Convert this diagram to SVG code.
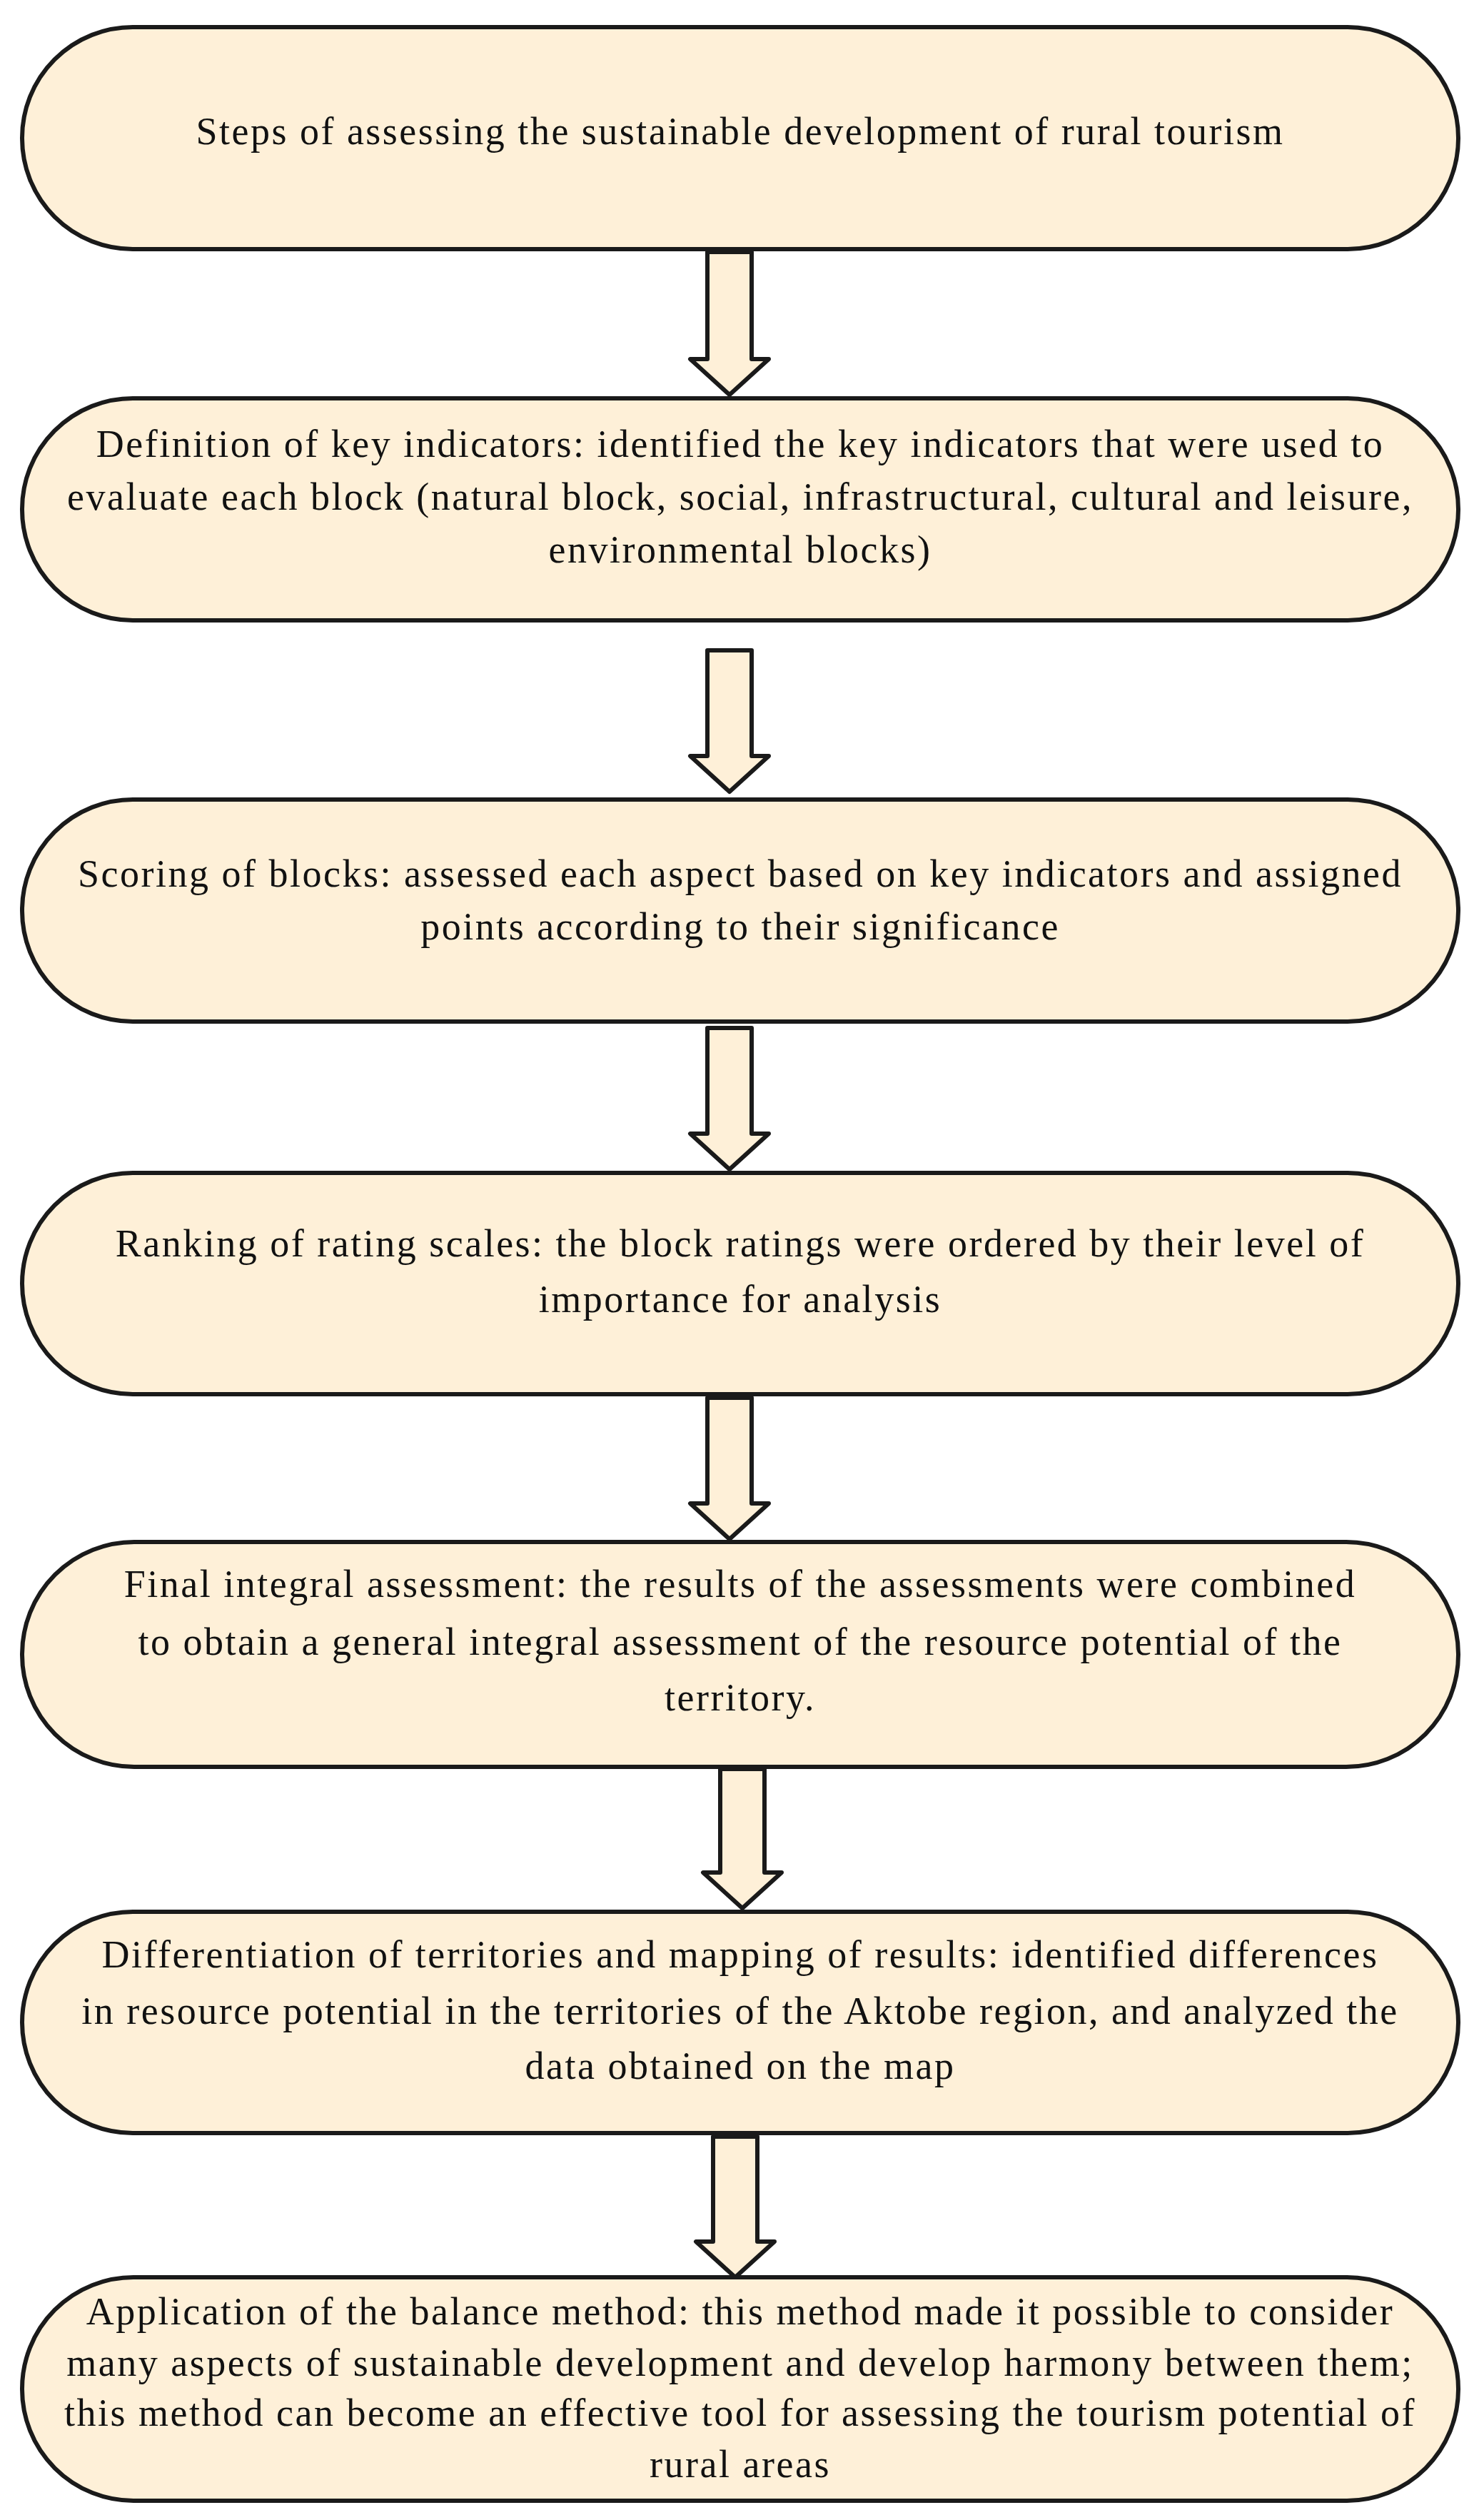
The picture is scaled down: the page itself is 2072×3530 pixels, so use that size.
<svg xmlns="http://www.w3.org/2000/svg" width="2072" height="3530" viewBox="0 0 2072 3530">
<style>
.b{fill:#FEF0D8;stroke:#1a1a1a;stroke-width:6}
.a{fill:#FEF0D8;stroke:#1a1a1a;stroke-width:6;stroke-linejoin:round}
text{font-family:"Liberation Serif","DejaVu Serif",serif;font-size:54px;letter-spacing:2.5px;fill:#111;text-anchor:middle}
</style>
<rect width="2072" height="3530" fill="#fff"/>
<g id="connectors">
<path class="a" d="M991,353 H1053 V503 H1077 L1022,553 L967,503 H991 Z"/>
<path class="a" d="M991,911 H1053 V1059 H1077 L1022,1109 L967,1059 H991 Z"/>
<path class="a" d="M991,1440 H1053 V1588 H1077 L1022,1638 L967,1588 H991 Z"/>
<path class="a" d="M991,1958 H1053 V2106 H1077 L1022,2156 L967,2106 H991 Z"/>
<path class="a" d="M1009,2478 H1071 V2623 H1095 L1040,2673 L985,2623 H1009 Z"/>
<path class="a" d="M999,2993 H1061 V3140 H1085 L1030,3190 L975,3140 H999 Z"/>
</g>
<g id="n1"><rect class="b" x="31" y="38" width="2012" height="311" rx="155"/>
<text x="1037" y="202">Steps of assessing the sustainable development of rural tourism</text></g>
<g id="n2"><rect class="b" x="31" y="558" width="2012" height="311" rx="155"/>
<text x="1037" y="640">Definition of key indicators: identified the key indicators that were used to</text>
<text x="1037" y="714">evaluate each block (natural block, social, infrastructural, cultural and leisure,</text>
<text x="1037" y="788">environmental blocks)</text></g>
<g id="n3"><rect class="b" x="31" y="1120" width="2012" height="311" rx="155"/>
<text x="1037" y="1242">Scoring of blocks: assessed each aspect based on key indicators and assigned</text>
<text x="1037" y="1316">points according to their significance</text></g>
<g id="n4"><rect class="b" x="31" y="1643" width="2012" height="310" rx="155"/>
<text x="1037" y="1760">Ranking of rating scales: the block ratings were ordered by their level of</text>
<text x="1037" y="1838">importance for analysis</text></g>
<g id="n5"><rect class="b" x="31" y="2160" width="2012" height="315" rx="157"/>
<text x="1037" y="2237">Final integral assessment: the results of the assessments were combined</text>
<text x="1037" y="2318">to obtain a general integral assessment of the resource potential of the</text>
<text x="1037" y="2396">territory.</text></g>
<g id="n6"><rect class="b" x="31" y="2678" width="2012" height="310" rx="155"/>
<text x="1037" y="2756">Differentiation of territories and mapping of results: identified differences</text>
<text x="1037" y="2835">in resource potential in the territories of the Aktobe region, and analyzed the</text>
<text x="1037" y="2912">data obtained on the map</text></g>
<g id="n7"><rect class="b" x="31" y="3190" width="2012" height="313" rx="156"/>
<text x="1037" y="3256">Application of the balance method: this method made it possible to consider</text>
<text x="1037" y="3328">many aspects of sustainable development and develop harmony between them;</text>
<text x="1037" y="3398">this method can become an effective tool for assessing the tourism potential of</text>
<text x="1037" y="3470">rural areas</text></g>
</svg>
